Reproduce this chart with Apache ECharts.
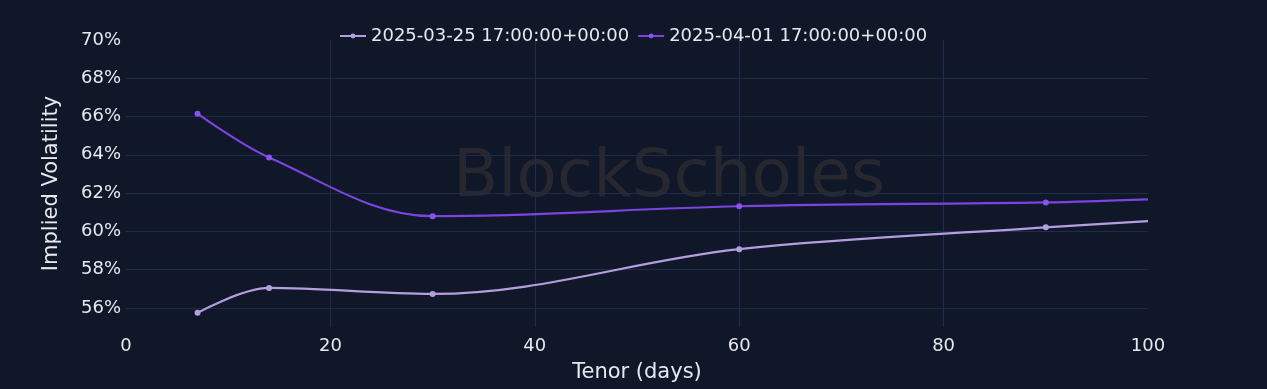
<!DOCTYPE html>
<html>
<head>
<meta charset="utf-8">
<script src="https://cdn.jsdelivr.net/npm/echarts@6/dist/echarts.min.js"></script>
<style>
html,body{margin:0;padding:0;background:#0f1729;}
#chart{width:1267px;height:389px;}
</style>
</head>
<body>
<div id="chart"></div>
<script>
const tenors = [7, 14, 30, 60, 90, 100];
const seriesNames = ['2025-03-25 17:00:00+00:00', '2025-04-01 17:00:00+00:00'];
const ivMar25 = [55.74, 57.04, 56.73, 59.07, 60.21, 60.53];
const ivApr01 = [66.15, 63.86, 60.79, 61.31, 61.51, 61.67];
const markerShown = [true, true, true, true, true, false];
const xTicks = [0, 20, 40, 60, 80, 100];
const yTicks = [56, 58, 60, 62, 64, 66, 68, 70];

const GRID = '#1f2b4a';
const TXT = '#e6e8ee';
const FONT = '"DejaVu Sans", "Noto Sans", sans-serif';

function build(vals) {
  return tenors.map((t, i) => ({
    value: [t, vals[i]],
    symbol: markerShown[i] ? 'circle' : 'none'
  }));
}

const yMin = 55, yMax = 70;
const yLineColors = [];
for (let v = yMin; v <= yMax; v++) {
  yLineColors.push(yTicks.indexOf(v) >= 0 && v !== yMax ? GRID : 'rgba(0,0,0,0)');
}
const xLineColors = xTicks.map((v, i) => (i === 0 || i === xTicks.length - 1) ? 'rgba(0,0,0,0)' : GRID);

const chart = echarts.init(document.getElementById('chart'));
chart.setOption({
  backgroundColor: '#0f1729',
  animation: false,
  textStyle: { fontFamily: FONT },
  graphic: [{
    type: 'text',
    left: 453,
    top: 146,
    z: 0,
    style: {
      text: 'BlockScholes',
      font: '400 66px ' + FONT,
      fill: '#27272f'
    }
  }],
  legend: {
    top: 22,
    left: 334,
    itemWidth: 26,
    itemHeight: 6,
    itemGap: 8,
    textStyle: { color: TXT, fontSize: 18, fontFamily: FONT },
    data: seriesNames
  },
  grid: { left: 126, right: 119, top: 40, bottom: 62 },
  xAxis: {
    type: 'value',
    min: 0, max: 100, interval: 20,
    name: 'Tenor (days)',
    nameLocation: 'middle',
    nameGap: 35,
    nameTextStyle: { color: TXT, fontSize: 21, fontFamily: FONT },
    axisLine: { show: false },
    axisTick: { show: false },
    axisLabel: { color: TXT, fontSize: 18, margin: 10, fontFamily: FONT },
    splitLine: { show: true, lineStyle: { color: xLineColors, width: 1 } }
  },
  yAxis: {
    type: 'value',
    min: yMin, max: yMax, interval: 1,
    name: 'Implied Volatility',
    nameLocation: 'middle',
    nameGap: 64,
    nameTextStyle: { color: TXT, fontSize: 21, fontFamily: FONT },
    axisLine: { show: false },
    axisTick: { show: false },
    axisLabel: {
      color: TXT, fontSize: 18, margin: 5, fontFamily: FONT,
      formatter: v => (yTicks.indexOf(v) >= 0 ? v + '%' : '')
    },
    splitLine: { show: true, lineStyle: { color: yLineColors, width: 1 } }
  },
  series: [
    {
      name: seriesNames[0],
      type: 'line',
      smooth: 0.35,
      symbol: 'circle',
      data: build(ivMar25),
      symbolSize: 6,
      showAllSymbol: true,
      lineStyle: { color: '#b49ee0', width: 2.2 },
      itemStyle: { color: '#b49ee0' },
      z: 3
    },
    {
      name: seriesNames[1],
      type: 'line',
      smooth: 0.35,
      symbol: 'circle',
      data: build(ivApr01),
      symbolSize: 6,
      showAllSymbol: true,
      lineStyle: { color: '#7b43e0', width: 2.2 },
      itemStyle: { color: '#8a52ec' },
      z: 3
    }
  ]
});
</script>
</body>
</html>
